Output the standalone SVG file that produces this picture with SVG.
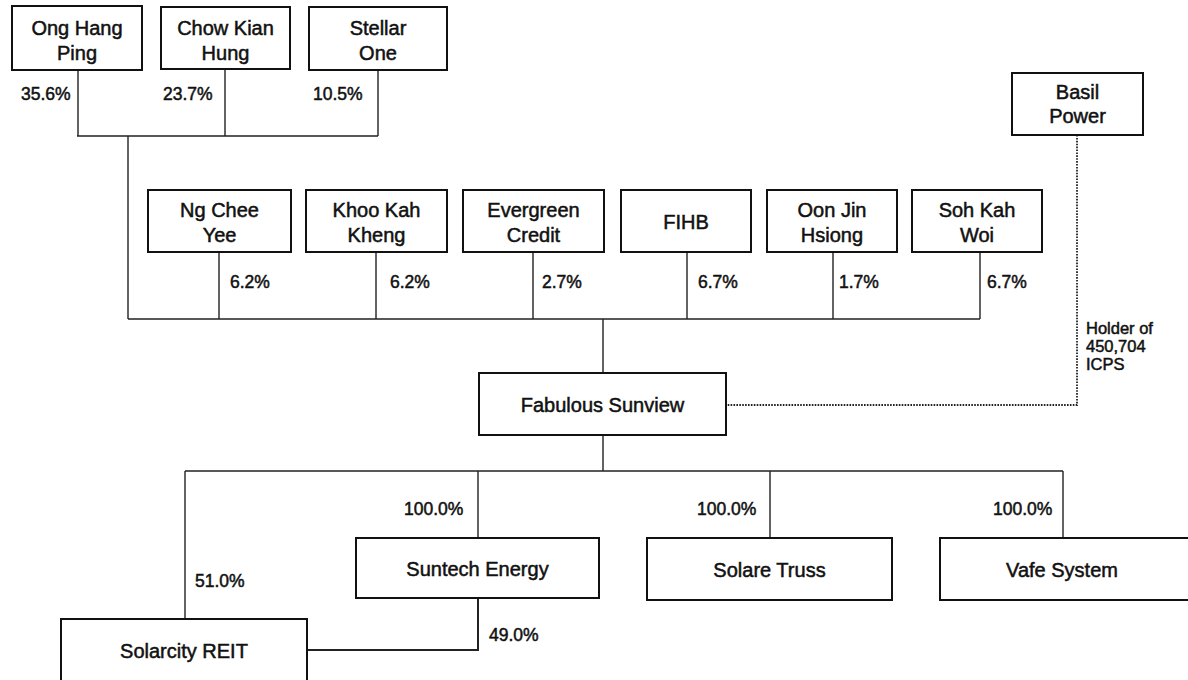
<svg xmlns="http://www.w3.org/2000/svg" width="1188" height="680" viewBox="0 0 1188 680">
<style>
.box{fill:#fff;stroke:#111;stroke-width:2}
.lbl{font-family:"Liberation Sans",Arial,sans-serif;font-size:20px;fill:#111;text-anchor:middle;stroke:#111;stroke-width:0.5}
.pct{font-family:"Liberation Sans",Arial,sans-serif;font-size:17.5px;fill:#111;stroke:#111;stroke-width:0.5}
.ln{fill:none;stroke:#222;stroke-width:1.4}
.dot{fill:none;stroke:#222;stroke-width:1.8;stroke-dasharray:1.6 1.3}
</style>
<rect width="1188" height="680" fill="#fff"/>
<g id="connectors">
<path class="ln" d="M78,70V136M225,69V136M378,70V136M77,136H378M128,136V319"/>
<path class="ln" d="M219,252V319M376,252V319M533,252V319M687,252V319M833,252V319M980,252V319M128,319H980M603,319V373"/>
<path class="ln" d="M603,435V471M185,471H1063M185,471V619M478,471V538M770,471V538M1063,471V538"/>
<path class="ln" d="M478,598V650H307" style="stroke-width:2"/>
<path class="dot" d="M1077,135V405H726"/>
</g>
<g id="ong"><rect class="box" x="12" y="6" width="130" height="64"/><text class="lbl" x="77" y="35">Ong Hang</text><text class="lbl" x="77" y="60">Ping</text></g>
<g id="chow"><rect class="box" x="161" y="7" width="129" height="62"/><text class="lbl" x="225.5" y="35">Chow Kian</text><text class="lbl" x="225.5" y="60">Hung</text></g>
<g id="stellar"><rect class="box" x="309" y="7" width="138" height="63"/><text class="lbl" x="378" y="35">Stellar</text><text class="lbl" x="378" y="60">One</text></g>
<g id="basil"><rect class="box" x="1012" y="73" width="131" height="62"/><text class="lbl" x="1077.5" y="99">Basil</text><text class="lbl" x="1077.5" y="123">Power</text></g>
<g id="ng"><rect class="box" x="148" y="190" width="143" height="62"/><text class="lbl" x="219.5" y="217">Ng Chee</text><text class="lbl" x="219.5" y="242">Yee</text></g>
<g id="khoo"><rect class="box" x="306" y="190" width="141" height="62"/><text class="lbl" x="376.5" y="217">Khoo Kah</text><text class="lbl" x="376.5" y="242">Kheng</text></g>
<g id="evergreen"><rect class="box" x="463" y="190" width="141" height="62"/><text class="lbl" x="533.5" y="217">Evergreen</text><text class="lbl" x="533.5" y="242">Credit</text></g>
<g id="fihb"><rect class="box" x="621" y="190" width="130" height="62"/><text class="lbl" x="686" y="229">FIHB</text></g>
<g id="oon"><rect class="box" x="767" y="190" width="130" height="62"/><text class="lbl" x="832" y="217">Oon Jin</text><text class="lbl" x="832" y="242">Hsiong</text></g>
<g id="soh"><rect class="box" x="912" y="190" width="130" height="62"/><text class="lbl" x="977" y="217">Soh Kah</text><text class="lbl" x="977" y="242">Woi</text></g>
<g id="fabulous"><rect class="box" x="479" y="373" width="247" height="62"/><text class="lbl" x="602.5" y="412">Fabulous Sunview</text></g>
<g id="suntech"><rect class="box" x="356" y="538" width="243" height="60"/><text class="lbl" x="477.5" y="576">Suntech Energy</text></g>
<g id="solare"><rect class="box" x="647" y="538" width="245" height="62"/><text class="lbl" x="769.5" y="577">Solare Truss</text></g>
<g id="vafe"><rect class="box" x="940" y="538" width="252" height="62"/><text class="lbl" x="1062" y="577">Vafe System</text></g>
<g id="solarcity"><rect class="box" x="61" y="619" width="246" height="62"/><text class="lbl" x="184" y="658">Solarcity REIT</text></g>
<g id="labels">
<text class="pct" x="21" y="100">35.6%</text>
<text class="pct" x="163" y="100">23.7%</text>
<text class="pct" x="313" y="100">10.5%</text>
<text class="pct" x="230" y="288">6.2%</text>
<text class="pct" x="390" y="288">6.2%</text>
<text class="pct" x="542" y="288">2.7%</text>
<text class="pct" x="698" y="288">6.7%</text>
<text class="pct" x="839" y="288">1.7%</text>
<text class="pct" x="987" y="288">6.7%</text>
<text class="pct" x="1086" y="334" style="font-size:16.5px">Holder of</text>
<text class="pct" x="1086" y="352" style="font-size:16.5px">450,704</text>
<text class="pct" x="1086" y="370" style="font-size:16.5px">ICPS</text>
<text class="pct" x="404" y="515">100.0%</text>
<text class="pct" x="697" y="515">100.0%</text>
<text class="pct" x="993" y="515">100.0%</text>
<text class="pct" x="195" y="587">51.0%</text>
<text class="pct" x="489" y="641">49.0%</text>
</g>
</svg>
